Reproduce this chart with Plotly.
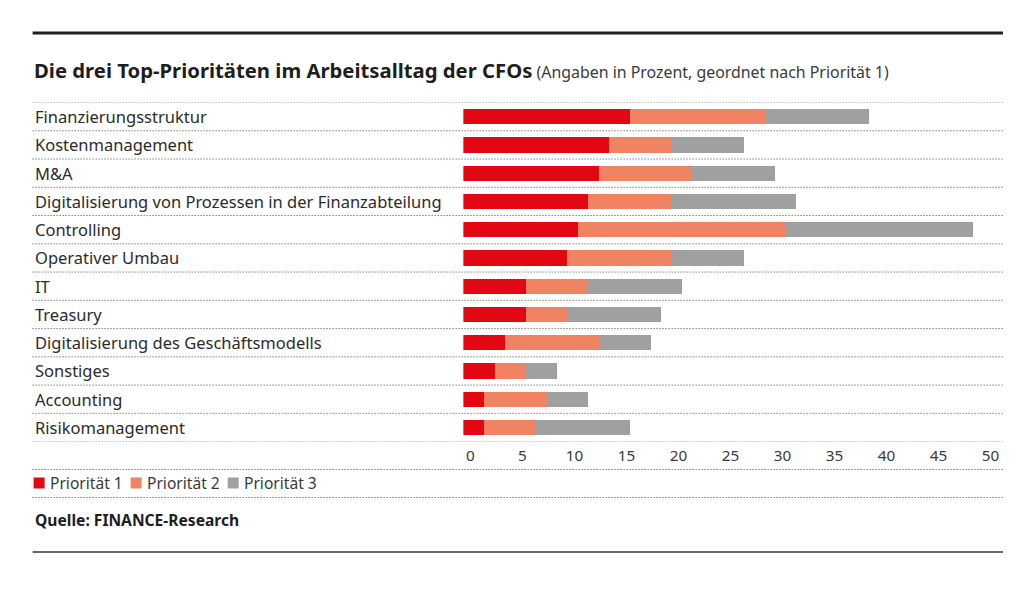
import plotly.graph_objects as go

categories = ["Finanzierungsstruktur", "Kostenmanagement", "M&A",
              "Digitalisierung von Prozessen in der Finanzabteilung",
              "Controlling", "Operativer Umbau", "IT", "Treasury",
              "Digitalisierung des Geschäftsmodells", "Sonstiges",
              "Accounting", "Risikomanagement"]
prio1 = [16, 14, 13, 12, 11, 10, 6, 6, 4, 3, 2, 2]
prio2 = [13, 6, 9, 8, 20, 10, 6, 4, 9, 3, 6, 5]
prio3 = [10, 7, 8, 12, 18, 7, 9, 9, 5, 3, 4, 9]
series_names = ["Priorität 1", "Priorität 2", "Priorität 3"]
colors = ["#e30613", "#f08462", "#a0a0a0"]
x_ticks = [0, 5, 10, 15, 20, 25, 30, 35, 40, 45, 50]

# layout helpers (target pixel positions -> paper coordinates)
W, H = 1024, 562
SX = 1 / 0.984          # page is captured slightly squeezed horizontally
OFFX, OFFY = 8.4, 8
FONT = "Noto Sans"
TXT = "#2b2b2b"

def px(p):
    return (p - OFFX) * SX / W

def py(p):
    return 1 - (p - OFFY) / H

fig = go.Figure()
for name, vals, col in zip(series_names, [prio1, prio2, prio3], colors):
    fig.add_trace(go.Bar(y=categories, x=vals, name=name, orientation="h",
                         marker=dict(color=col, line=dict(width=0)),
                         width=0.54, hoverinfo="x+y+name", showlegend=False))

row_top, row_bot = 102.5, 441.6
fig.update_layout(
    width=W, height=H, margin=dict(l=0, r=0, t=0, b=0),
    paper_bgcolor="white", plot_bgcolor="white",
    barmode="stack",
    font=dict(family=FONT, size=15, color=TXT),
    xaxis=dict(domain=[px(463.6), px(983.6)], range=[0, 50],
               tickvals=x_ticks, ticktext=[str(t) for t in x_ticks],
               showgrid=False, zeroline=False, showline=False,
               ticks="outside", ticklen=0, tickcolor="rgba(0,0,0,0)",
               ticklabelshift=7,
               tickfont=dict(family=FONT, size=15.3, color="#3a3a3a"),
               fixedrange=True),
    yaxis=dict(domain=[py(row_bot), py(row_top)], type="category",
               categoryorder="array", categoryarray=categories,
               range=[len(categories) - 0.5, -0.5],
               showticklabels=False, showgrid=False, zeroline=False,
               showline=False, ticks="", fixedrange=True),
    showlegend=False,
)

# category labels (left-aligned)
for c in categories:
    fig.add_annotation(x=px(33), xref="paper", xanchor="left", y=c, yref="y",
                       yanchor="middle", text=c, showarrow=False,
                       font=dict(family=FONT, size=16.5, color=TXT))

# legend: colour square + name
leg_x = [34, 131, 228]
for lx, name, col in zip(leg_x, series_names, colors):
    fig.add_shape(type="rect", xref="paper", yref="paper",
                  x0=px(lx), x1=px(lx + 11), y0=py(488.5), y1=py(477.5),
                  fillcolor=col, line=dict(width=0))
    fig.add_annotation(x=px(lx + 14), xref="paper", xanchor="left",
                       y=py(483), yref="paper", yanchor="middle",
                       text=name, showarrow=False,
                       font=dict(family=FONT, size=15.6, color="#3a3a3a"))

# dotted separators between rows
dot = dict(color="#444444", width=1, dash="1px,2px")
for i in range(len(categories) + 1):
    fig.add_shape(type="line", xref="paper", yref="y", x0=px(33), x1=px(1003),
                  y0=i - 0.5, y1=i - 0.5, line=dot)
for p in [469.5, 497.5]:
    fig.add_shape(type="line", xref="paper", yref="paper", x0=px(33), x1=px(1003),
                  y0=py(p), y1=py(p), line=dot)

# solid rules
fig.add_shape(type="line", xref="paper", yref="paper", x0=px(33), x1=px(1003),
              y0=py(33), y1=py(33), line=dict(color="#1e1e1e", width=3))
fig.add_shape(type="line", xref="paper", yref="paper", x0=px(33), x1=px(1003),
              y0=py(552), y1=py(552), line=dict(color="#333333", width=1.5))

# title
fig.add_annotation(x=px(32), xref="paper", xanchor="left", y=py(70), yref="paper",
                   yanchor="middle", showarrow=False,
                   text="<b>Die drei Top-Prioritäten im Arbeitsalltag der CFOs</b>"
                        "<span style='font-size:15.9px;color:#3a3a3a'> (Angaben in Prozent, geordnet nach Priorität 1)</span>",
                   font=dict(family=FONT, size=20.3, color="#1e1e1e"))

# source
fig.add_annotation(x=px(33), xref="paper", xanchor="left", y=py(520), yref="paper",
                   yanchor="middle", showarrow=False,
                   text="<b>Quelle: FINANCE-Research</b>",
                   font=dict(family=FONT, size=15.6, color="#1e1e1e"))

fig.write_html("out.html")
